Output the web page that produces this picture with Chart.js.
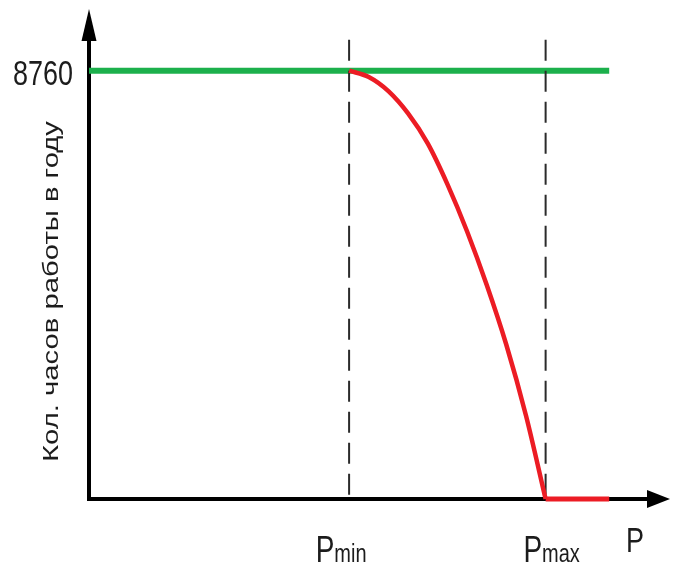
<!DOCTYPE html>
<html><head><meta charset="utf-8">
<script src="https://cdn.jsdelivr.net/npm/chart.js@4"></script>
<style>html,body{margin:0;padding:0;background:#fff;overflow:hidden}#wrap{width:673px;height:564px;position:relative}</style>
</head><body><div id="wrap"><canvas id="c" width="673" height="564"></canvas></div>
<script>
// ---- data ----
const yTickValues = [8760];
const yTickLabels = ['8760'];
const xMarkValues = [45, 79];
const xMarkMain = ['P', 'P'];
const xMarkSub = ['min', 'max'];
const xAxisLabel = 'P';
const yAxisLabel = 'Кол. часов работы в году';
const fullLoadX = [0, 90];
const fullLoadY = [8760, 8760];
const curveX = [45, 48.4, 51.8, 55.2, 58.6, 62, 65.4, 68.8, 72.2, 75.6, 79];
const curveY = [8760, 8629, 8340, 7884, 7271, 6439, 5475, 4380, 3154, 1708, 0];
const tailX = [79, 90];
const tailY = [0, 0];
const dashTopY = 9390;

const pts = (xs, ys) => xs.map((v, i) => ({x: v, y: ys[i]}));

// ---- drawing helpers ----
const FONT = '"Liberation Sans", Arial, sans-serif';
const SY = 1.33;
const TEXT_COLOR = '#1c1c1c';
function sText(ctx, str, x, y, size, align, base) {
  ctx.save();
  ctx.translate(x, y);
  ctx.scale(1, SY);
  ctx.font = size + 'px ' + FONT;
  ctx.textAlign = align;
  ctx.textBaseline = base;
  ctx.fillStyle = TEXT_COLOR;
  ctx.fillText(str, 0, 0);
  ctx.restore();
}

const axesPlugin = {
  id: 'axesArrows',
  beforeDatasetsDraw(chart) {
    const {ctx, chartArea, scales: {x, y}} = chart;
    const x0 = x.getPixelForValue(0), y0 = y.getPixelForValue(0);
    const top = chartArea.top, right = chartArea.right;
    ctx.save();
    ctx.strokeStyle = '#000';
    ctx.lineWidth = 4;
    ctx.beginPath();
    ctx.moveTo(x0, y0 + 2); ctx.lineTo(x0, top + 25);
    ctx.moveTo(x0 - 2, y0); ctx.lineTo(right - 16, y0);
    ctx.stroke();
    ctx.fillStyle = '#000';
    ctx.beginPath();
    ctx.moveTo(x0, top - 1); ctx.lineTo(x0 - 7.5, top + 31); ctx.lineTo(x0 + 7.5, top + 31);
    ctx.closePath(); ctx.fill();
    ctx.beginPath();
    ctx.moveTo(right + 3, y0); ctx.lineTo(right - 20, y0 - 9); ctx.lineTo(right - 20, y0 + 9);
    ctx.closePath(); ctx.fill();
    ctx.restore();
  },
  afterDraw(chart) {
    const {ctx, scales: {x, y}} = chart;
    const x0 = x.getPixelForValue(0);
    // y tick labels
    yTickValues.forEach((v, i) => {
      sText(ctx, yTickLabels[i], x0 - 16, y.getPixelForValue(v) + 14, 27, 'right', 'alphabetic');
    });
    // x marks Pmin / Pmax
    const shift = [-8, 6];
    const base = y.getPixelForValue(0) + 63;
    xMarkValues.forEach((v, i) => {
      ctx.save();
      ctx.font = '28px ' + FONT;
      const wMain = ctx.measureText(xMarkMain[i]).width;
      ctx.font = '20px ' + FONT;
      const wSub = ctx.measureText(xMarkSub[i]).width;
      ctx.restore();
      const left = x.getPixelForValue(v) + shift[i] - (wMain + wSub) / 2;
      sText(ctx, xMarkMain[i], left, base, 28, 'left', 'alphabetic');
      sText(ctx, xMarkSub[i], left + wMain, base, 20, 'left', 'alphabetic');
    });
    // axis label P
    sText(ctx, xAxisLabel, chart.chartArea.right - 41, y.getPixelForValue(0) + 53, 27, 'left', 'alphabetic');
    // y axis title
    ctx.save();
    ctx.translate(52, (chart.chartArea.top + chart.chartArea.bottom) / 2 + 37);
    ctx.rotate(-Math.PI / 2);
    ctx.scale(SY, 1);
    ctx.font = '22px ' + FONT;
    ctx.textAlign = 'center';
    ctx.textBaseline = 'middle';
    ctx.fillStyle = TEXT_COLOR;
    ctx.fillText(yAxisLabel, 0, 0);
    ctx.restore();
  }
};

new Chart(document.getElementById('c'), {
  type: 'line',
  data: {
    datasets: [
      {label: 'curve', data: pts(curveX, curveY), borderColor: '#ec1c24', borderWidth: 4.5,
       cubicInterpolationMode: 'monotone', pointRadius: 0, order: 0, clip: false},
      {label: 'tail', data: pts(tailX, tailY), borderColor: '#ec1c24', borderWidth: 5,
       pointRadius: 0, order: 0, clip: false, borderCapStyle: 'butt'},
      {label: 'pmin', data: [{x: xMarkValues[0], y: dashTopY}, {x: xMarkValues[0], y: 0}],
       borderColor: '#2b2b2b', borderWidth: 2, borderDash: [21, 10], pointRadius: 0, order: 1, clip: false},
      {label: 'pmax', data: [{x: xMarkValues[1], y: dashTopY}, {x: xMarkValues[1], y: 0}],
       borderColor: '#2b2b2b', borderWidth: 2, borderDash: [21, 10], pointRadius: 0, order: 1, clip: false},
      {label: 'full', data: pts(fullLoadX, fullLoadY), borderColor: '#1cb04c', borderWidth: 6,
       pointRadius: 0, order: 2, clip: false, borderCapStyle: 'butt'}
    ]
  },
  options: {
    responsive: false,
    animation: false,
    devicePixelRatio: 1,
    layout: {padding: {left: 0, top: 10, right: 6, bottom: 0}},
    plugins: {legend: {display: false}, tooltip: {enabled: false}, title: {display: false}},
    scales: {
      x: {type: 'linear', min: 0, max: 100,
          grid: {display: false}, border: {display: false}, ticks: {display: false},
          afterFit(s) { s.height = 65; }},
      y: {type: 'linear', min: 0, max: 10000,
          grid: {display: false}, border: {display: false}, ticks: {display: false},
          afterFit(s) { s.width = 89; }}
    }
  },
  plugins: [axesPlugin]
});
</script>
</body></html>
